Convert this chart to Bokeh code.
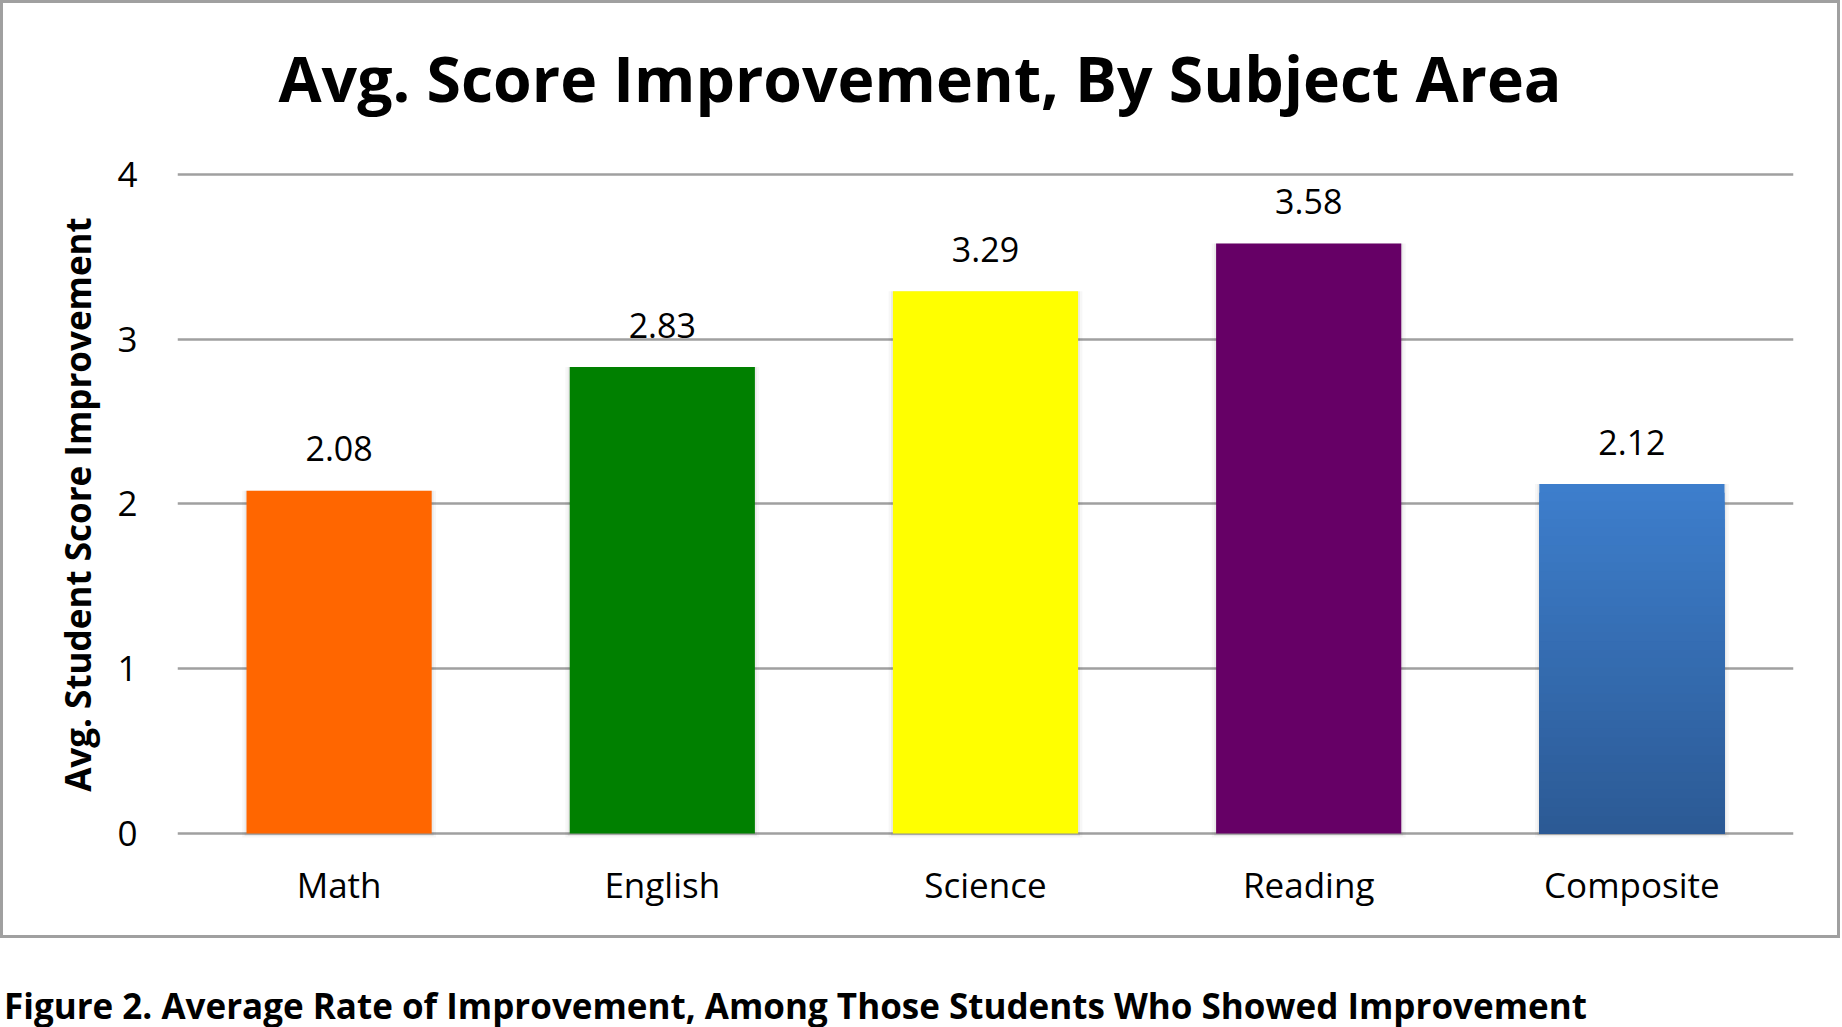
from bokeh.plotting import figure
from bokeh.layouts import column
from bokeh.models import FactorRange, Range1d, ColumnDataSource, FixedTicker, Div
from bokeh.embed import file_html
from bokeh.resources import INLINE
from bokeh.core.properties import value

# ---- data ----
subjects = ["Math", "English", "Science", "Reading", "Composite"]
scores = [2.08, 2.83, 3.29, 3.58, 2.12]
score_labels = ["2.08", "2.83", "3.29", "3.58", "2.12"]
bar_colors = ["#FF6600", "#008000", "#FFFF00", "#660066", "#3A77C2"]
y_ticks = [0, 1, 2, 3, 4]
title_text = "Avg. Score Improvement, By Subject Area"
y_title = "Avg. Student Score Improvement"
caption_text = "Figure 2. Average Rate of Improvement, Among Those Students Who Showed Improvement"
gradient_subject = "Composite"
gradient_top, gradient_bottom = (61, 126, 204), (44, 90, 149)

# ---- layout constants (pixels, canvas coords = page - border) ----
W, H = 1842, 1027
BW = 3                      # chart border width (CSS, border-box)
PW, PH = 1840, 938          # bordered chart element size
FL, FR = 177 - BW, 1793 - BW
FT, FB = 144, 858           # frame top / bottom in canvas px
ZERO_PX, PX_PER_UNIT = 830, 164.8
Y_START = -(FB - ZERO_PX) / PX_PER_UNIT
Y_END = (ZERO_PX - FT) / PX_PER_UNIT
FONT = "Open Sans"

p = figure(width=PW, height=PH, x_range=FactorRange(*subjects), y_range=Range1d(Y_START, Y_END),
           output_backend="svg", toolbar_location=None, tools="",
           min_border_left=FL, min_border_right=PW - FR, min_border_top=FT, min_border_bottom=PH - FB)
p.outline_line_color = None
p.background_fill_color = "white"
p.border_fill_color = "white"
p.styles = {"border": "%dpx solid #a0a0a0" % BW}

# title
p.title.text = title_text
p.title.align = "left"
p.title.offset = 278 - 177
p.title.text_font = FONT
p.title.text_font_style = "bold"
p.title.text_font_size = "62.5px"
p.title.text_color = "black"
p.title.standoff = 55

# shadows
src = ColumnDataSource(dict(x=subjects, top=scores, color=bar_colors, label=score_labels))
p.vbar(x="x", top="top", width=0.60, bottom=-0.025, source=src, fill_color="black", fill_alpha=0.03, line_color=None)
p.vbar(x="x", top="top", width=0.585, bottom=-0.015, source=src, fill_color="black", fill_alpha=0.05, line_color=None)

# bars
flat = [i for i, s in enumerate(subjects) if s != gradient_subject]
fsrc = ColumnDataSource(dict(x=[subjects[i] for i in flat], top=[scores[i] for i in flat],
                             color=[bar_colors[i] for i in flat]))
p.vbar(x="x", top="top", width=0.573, source=fsrc, fill_color="color", line_color=None)

gi = subjects.index(gradient_subject)
N = 40
for k in range(N):
    t = k / (N - 1)
    col = tuple(int(round(gradient_top[j] + (gradient_bottom[j] - gradient_top[j]) * t)) for j in range(3))
    p.vbar(x=[subjects[gi]], top=[scores[gi] * (1 - k / N)], width=0.573,
           fill_color="#%02x%02x%02x" % col, line_color=None)

# value labels
p.text(x="x", y="top", text="label", source=src, text_align="center", text_baseline="alphabetic",
       y_offset=-42, text_font=value(FONT), text_font_size="34px", text_color="black")

# axes
p.xaxis.axis_line_color = None
p.xaxis.major_tick_line_color = None
p.xaxis.minor_tick_line_color = None
p.xaxis.major_label_text_font = FONT
p.xaxis.major_label_text_font_size = "35px"
p.xaxis.major_label_text_color = "black"
p.xaxis.major_label_standoff = 21 - (FB - ZERO_PX)
p.xgrid.grid_line_color = None

p.yaxis.ticker = FixedTicker(ticks=y_ticks)
p.yaxis.axis_line_color = None
p.yaxis.major_tick_line_color = None
p.yaxis.minor_tick_line_color = None
p.yaxis.major_label_text_font = FONT
p.yaxis.major_label_text_font_size = "35px"
p.yaxis.major_label_text_color = "black"
p.yaxis.major_label_standoff = 34
p.yaxis.axis_label = y_title
p.yaxis.axis_label_text_font = FONT
p.yaxis.axis_label_text_font_style = "bold"
p.yaxis.axis_label_text_font_size = "35px"
p.yaxis.axis_label_text_color = "black"
p.yaxis.axis_label_standoff = 13
p.ygrid.ticker = FixedTicker(ticks=y_ticks)
p.ygrid.grid_line_color = "#a0a0a0"
p.ygrid.grid_line_width = 2.5

# caption below the bordered chart
CH = H - PH
caption = Div(text=caption_text, width=W, height=CH, margin=(0, 0, 0, 0),
              styles={"font-family": FONT, "font-weight": "bold", "font-size": "35px",
                      "line-height": "35px", "color": "black", "padding-top": "50px",
                      "padding-left": "4px", "white-space": "nowrap", "box-sizing": "border-box"})

layout = column(p, caption, spacing=0)
open("out.html", "w").write(file_html(layout, INLINE))
